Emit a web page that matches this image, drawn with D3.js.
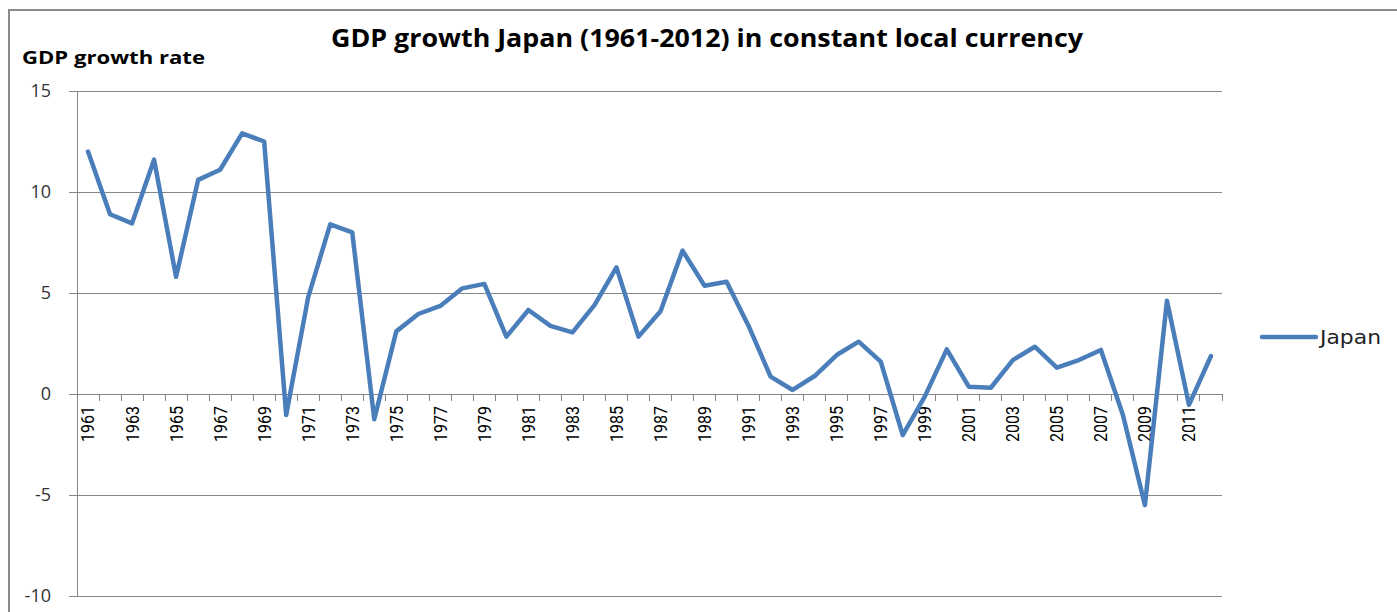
<!DOCTYPE html>
<html>
  <head>
    <meta charset="utf-8">
    <title>GDP growth Japan</title>
    <script src="https://d3js.org/d3.v7.min.js"></script>
    <style>
      body { margin: 0; background: #fff; }
    </style>
  </head>
  <body>
    <svg width="1397" height="612"></svg>

    <script type="text/javascript">
            var years = d3.range(1961, 2013);
            var japanGrowth = [12.0, 8.9, 8.45, 11.6, 5.8, 10.6, 11.1, 12.9, 12.5, -1.04,
                4.8, 8.4, 8.0, -1.25, 3.1, 3.96, 4.36, 5.23, 5.45, 2.84,
                4.16, 3.37, 3.05, 4.4, 6.27, 2.84, 4.1, 7.1, 5.36, 5.56,
                3.37, 0.86, 0.2, 0.89, 1.93, 2.59, 1.6, -2.03, -0.13, 2.21,
                0.36, 0.31, 1.68, 2.34, 1.3, 1.68, 2.18, -1.04, -5.5, 4.62,
                -0.54, 1.88];
            var yTicks = [-10, -5, 0, 5, 10, 15];
            var seriesName = "Japan";

            var dataset = years.map((y, i) => [y, japanGrowth[i]]);

            var margin = {top: 91, left: 77, right: 175, bottom: 16};
            var width = 1397 - margin.left - margin.right;
            var height = 612 - margin.top - margin.bottom;

            var xScale = d3.scaleBand().domain(years).range([0, width]).padding(0);
            var yScale = d3.scaleLinear().domain([-10, 15]).range([height, 0]);

            var svg = d3.select("svg");
            var lineColor = "#4a7ebb";
            var gridColor = "#868686";

            // chart frame
            svg.append("rect")
               .attr("x", 9).attr("y", 10)
               .attr("width", 1420).attr("height", 640)
               .attr("fill", "none")
               .attr("stroke", "#8a8a8a")
               .attr("stroke-width", 2);

            svg.append("text")
               .attr("x", 707).attr("y", 47)
               .attr("text-anchor", "middle")
               .attr("font-family", "Open Sans, sans-serif")
               .attr("font-weight", "bold")
               .attr("font-size", 25)
               .attr("fill", "#000")
               .attr("textLength", 752)
               .attr("lengthAdjust", "spacingAndGlyphs")
               .text("GDP growth Japan (1961-2012) in constant local currency");

            svg.append("text")
               .attr("x", 22).attr("y", 64)
               .attr("font-family", "Open Sans, sans-serif")
               .attr("font-weight", "bold")
               .attr("font-size", 17)
               .attr("fill", "#000")
               .attr("textLength", 183)
               .attr("lengthAdjust", "spacingAndGlyphs")
               .text("GDP growth rate");

            var plot = svg.append("g")
               .attr("transform", "translate(" + margin.left + "," + margin.top + ")");

            // y axis with gridlines
            var yAxis = d3.axisLeft(yScale).tickValues(yTicks).tickSize(8).tickPadding(18)
               .tickFormat(d => String(d));
            var yAxisGroup = plot.append("g").attr("class", "yAxis").call(yAxis);
            yAxisGroup.select(".domain").attr("stroke", gridColor);
            yAxisGroup.selectAll(".tick line").attr("stroke", gridColor);
            yAxisGroup.selectAll(".tick text")
               .attr("font-family", "Open Sans, sans-serif")
               .attr("font-size", 18)
               .attr("fill", "#333");

            plot.append("g").attr("class", "grid")
               .selectAll("line")
               .data(yTicks)
               .enter()
               .append("line")
               .attr("x1", 0).attr("x2", width)
               .attr("y1", d => yScale(d)).attr("y2", d => yScale(d))
               .attr("stroke", gridColor)
               .attr("stroke-width", 1)
               .attr("shape-rendering", "crispEdges");

            // x axis: ticks on category boundaries, labels every other year
            var boundaries = years.map(y => xScale(y)).concat([width]);
            plot.append("g").attr("class", "xTicks")
               .selectAll("line")
               .data(boundaries)
               .enter()
               .append("line")
               .attr("x1", d => d).attr("x2", d => d)
               .attr("y1", yScale(0)).attr("y2", yScale(0) + 7)
               .attr("stroke", gridColor)
               .attr("shape-rendering", "crispEdges");

            plot.append("g").attr("class", "xLabels")
               .selectAll("text")
               .data(years.filter((y, i) => i % 2 == 0))
               .enter()
               .append("text")
               .attr("transform", d => "translate(" + (xScale(d) + xScale.bandwidth() / 2) + "," + (yScale(0) + 12) + ") rotate(-90)")
               .attr("text-anchor", "end")
               .attr("dy", "0.36em")
               .attr("font-family", "Liberation Sans Narrow, Roboto, sans-serif")
               .attr("font-size", 18)
               .attr("fill", "#000")
               .attr("textLength", 36)
               .attr("lengthAdjust", "spacingAndGlyphs")
               .text(d => d);

            var line = d3.line()
               .x(d => xScale(d[0]) + xScale.bandwidth() / 2)
               .y(d => yScale(d[1]));

            plot.append("path")
               .datum(dataset)
               .attr("d", line)
               .attr("fill", "none")
               .attr("stroke", lineColor)
               .attr("stroke-width", 4.5)
               .attr("stroke-linejoin", "round")
               .attr("stroke-linecap", "round");

            // legend
            var legend = svg.append("g").attr("transform", "translate(1262,337)");
            legend.append("line")
               .attr("x1", 0).attr("x2", 54)
               .attr("stroke", lineColor)
               .attr("stroke-width", 4.5)
               .attr("stroke-linecap", "round");
            legend.append("text")
               .attr("x", 58).attr("y", 7)
               .attr("font-family", "DejaVu Sans, sans-serif")
               .attr("font-size", 19)
               .attr("fill", "#222")
               .attr("textLength", 61)
               .attr("lengthAdjust", "spacingAndGlyphs")
               .text(seriesName);
    </script>
  </body>
</html>
